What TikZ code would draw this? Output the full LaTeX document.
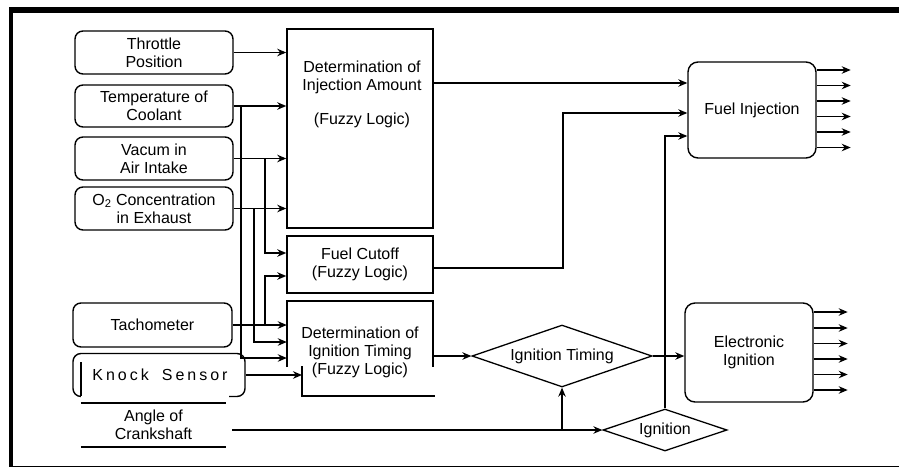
\documentclass[tikz,border=0pt]{standalone}
\usepackage{fontspec}
\setmainfont{Liberation Sans}
\usetikzlibrary{shapes.geometric,arrows.meta}
\newcommand\fsz{\fontsize{16}{18}\selectfont}
\newcommand\kstext{K\kern3pt n\kern3pt o\kern3pt c\kern3pt k\hspace{13pt}S\kern3pt e\kern3pt n\kern3pt s\kern3pt o\kern3pt r}
\begin{document}
\begin{tikzpicture}[x=1pt,y=-1pt,
  every node/.style={font=\fsz, inner sep=0pt, align=center},
  box/.style={draw, line width=1.4pt, rounded corners=8pt},
  sq/.style={draw, line width=1.5pt},
  dia/.style={draw, diamond, line width=1.3pt, inner sep=0pt, aspect=2.9},
  ln/.style={line width=1.3pt},
  arr/.style={ln, -{Stealth[length=9pt,width=7.5pt]}}]
\useasboundingbox (0,0) rectangle (899,469);
% frame
\fill (9,7) rectangle (899,13);
\fill (9,7) rectangle (13,467);
\draw[line width=1.5pt] (9,466.5) -- (899,466.5);

% row / bus coordinates
\coordinate (bA) at (241,0);
\coordinate (bB) at (254,0);
\coordinate (bC) at (265,0);
\coordinate (bD) at (563,0);
\coordinate (ignp) at (302,0);
\coordinate (r83) at (0,83);
\coordinate (r113) at (0,113);
\coordinate (r136) at (0,136);
\coordinate (r253) at (0,253);
\coordinate (r268) at (0,268);
\coordinate (r276) at (0,276);
\coordinate (r343) at (0,342);
\coordinate (r358) at (0,358);

% inputs
\node[box, minimum width=158pt, minimum height=43pt] (thr) at (154,52.5) {Throttle\\Position};
\node[box, minimum width=158pt, minimum height=42pt] (temp) at (154,106) {Temperature of\\Coolant};
\node[box, minimum width=158pt, minimum height=43pt] (vac) at (154,158.5) {Vacum in\\Air Intake};
\node[box, minimum width=158pt, minimum height=43pt] (o2) at (154,208.5) {O\textsubscript{2} Concentration\\in Exhaust};
\node[box, minimum width=159pt, minimum height=44pt] (tach) at (152.5,325) {Tachometer};
\node[box, minimum width=172pt, minimum height=43pt] (knock) at (159,375) {};
\fill[white] (81,362) rectangle (229,399);
\draw[line width=1.4pt] (81,362) -- (81,396);
\node (knockt) at (160,375) {\kstext};
\node[minimum width=145pt, minimum height=44pt] (crank) at (153.5,425) {Angle of\\Crankshaft};
\draw[line width=1.6pt] (crank.north west) -- (crank.north east);
\draw[line width=1.6pt] (crank.south west) -- (crank.south east);
\coordinate (cs) at (232,430);

% processing blocks
\node[sq, minimum width=146pt, minimum height=199pt] (inj) at (360,128.5) {};
\node (injt) at (362,94) {Determination of\\Injection Amount\\[16pt](Fuzzy Logic)};
\node[sq, minimum width=146pt, minimum height=57pt] (cut) at (360,264.5) {Fuel Cutoff\\(Fuzzy Logic)};
\node[minimum width=146pt, minimum height=40pt] (ign) at (360,352) {Determination of\\Ignition Timing\\(Fuzzy Logic)};
\draw[line width=1.5pt] (287,367) -- (287,301) -- (433,301) -- (433,367);
\draw[line width=1.5pt] (302,366) -- (302,396) -- (435,396);

% decisions
\node[dia, minimum width=180pt, minimum height=62pt] (itim) at (562,356) {Ignition Timing};
\node[dia, minimum width=124pt, minimum height=42pt] (ignd) at (665,430) {Ignition};

% outputs
\node[box, rounded corners=10pt, minimum width=128pt, minimum height=96pt] (fuel) at (752,110) {Fuel Injection};
\node[box, rounded corners=10pt, minimum width=128pt, minimum height=99pt] (eign) at (749,352.5) {Electronic\\Ignition};

% connectors: inputs
\draw[arr] (thr.east) -- (thr.east -| inj.west);
\draw[arr] (temp.east) -- (temp.east -| inj.west);
\draw[arr] (vac.east) -- (vac.east -| inj.west);
\draw[arr] (o2.east) -- (o2.east -| inj.west);
\draw[arr] (temp.east -| bA) |- (ign.west |- r358);
\draw[arr] (o2.east -| bB) |- (ign.west |- r343);
\draw[arr] (vac.east -| bC) |- (cut.west |- r253);
\draw[arr] (tach.east) -- (tach.east -| ign.west);
\draw[arr] (tach.east -| bC) |- (cut.west |- r276);
\draw[arr] (knock.east) -- (knock.east -| ignp);
\draw[arr] (cs) -- (ignd.west);
\draw[arr] (itim.south |- cs) -- (itim.south);

% connectors: processing to outputs
\draw[arr] (inj.east |- r83) -- (fuel.west |- r83);
\draw[arr] (cut.east |- r268) -- (bD |- r268) -- (bD |- r113) -- (fuel.west |- r113);
\draw[arr] (ignd.north) |- (fuel.west |- r136);
\draw[arr] (ign.east |- itim.west) -- (itim.west);
\draw[arr] (itim.east) -- (itim.east -| eign.west);

\foreach \y in {70,85.5,101,116.5,132,147.5}
  \draw[arr] (fuel.east |- 0,\y) -- ++(34,0);
\foreach \y in {312,328,343.5,359,374.5,390}
  \draw[arr] (eign.east |- 0,\y) -- ++(34,0);
\end{tikzpicture}
\end{document}
